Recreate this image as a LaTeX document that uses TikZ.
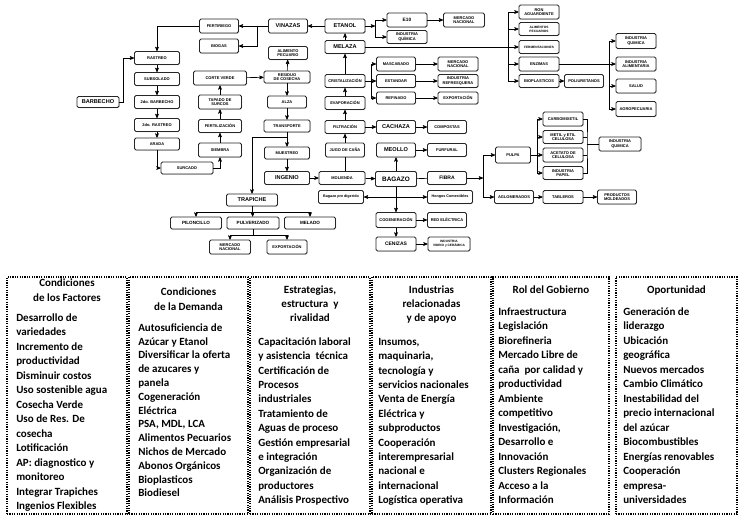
\documentclass[tikz,border=0pt]{standalone}
\usepackage{fontspec}
\setmainfont{Carlito}
\newfontfamily\diagfont{Liberation Sans}
\usepackage{tikz}
\usetikzlibrary{arrows,shadows,calc,positioning}

\begin{document}
\begin{tikzpicture}[x=1pt,y=-1pt,->,>=stealth',line width=0.6pt]

   \tikzstyle{proc}=[draw=black!85,rounded corners=1.5pt,line width=0.8pt,fill=white,
      drop shadow={shadow xshift=0.6pt,shadow yshift=-0.6pt,fill=black!45},
      minimum width=40pt,minimum height=13pt,inner sep=0.5pt,align=center,
      font=\diagfont\bfseries\fontsize{4}{4.6}\selectfont]
   \tikzstyle{big}=[proc,font=\diagfont\bfseries\fontsize{5.6}{6}\selectfont]
   \tikzstyle{wee}=[proc,font=\diagfont\bfseries\fontsize{3.2}{3.8}\selectfont]
   \tikzstyle{panel}=[draw,line width=1.6pt,dash pattern=on 1.2pt off 1.2pt,
      minimum height=237pt,inner sep=0pt]
   \tikzstyle{head}=[anchor=north,align=center,inner sep=0pt,font=\bfseries\fontsize{11}{15}\selectfont]
   \tikzstyle{body}=[anchor=north west,align=left,inner sep=0pt,font=\bfseries\fontsize{11}{14.5}\selectfont]

   \useasboundingbox (0,0) rectangle (742,528);

   % field work
   \node[big,minimum width=42pt,minimum height=11pt] (barbecho) at (98,102) {BARBECHO};
   \node[proc,minimum width=45pt] (rastreo) at (157,58) {RASTREO};
   \node[proc,minimum width=45pt] (subsolado) at (157,79) {SUBSOLADO};
   \node[proc,minimum width=45pt] (barbecho2) at (157,102) {2do. BARBECHO};
   \node[proc,minimum width=45pt] (rastreo2) at (157,125) {2do. RASTREO};
   \node[proc,minimum width=45pt,minimum height=12pt] (arada) at (157,144) {ARADA};
   \node[proc,minimum width=52pt,minimum height=12pt] (surcado) at (187,168) {SURCADO};
   \node[proc,minimum width=43pt,minimum height=14pt] (siembra) at (220,150) {SIEMBRA};
   \node[proc,minimum width=43pt] (fertil) at (220,126) {FERTILIZACIÓN};
   \node[proc,minimum width=43pt,minimum height=14pt] (tapado) at (220,102) {TAPADO DE\\SURCOS};
   \node[proc,minimum width=53pt,minimum height=14pt] (corte) at (220,78) {CORTE VERDE};
   \node[proc,minimum width=39pt,minimum height=14pt] (fertiriego) at (219,26) {FERTIRIEGO};
   \node[proc,minimum width=39pt,minimum height=14pt] (biogas) at (219,46) {BIOGAS};

   % harvest and mill
   \node[big,minimum width=39pt,minimum height=14pt] (vinazas) at (288,26) {VINAZAS};
   \node[proc,minimum width=39pt] (alimpec) at (288,53) {ALIMENTO\\PECUARIO};
   \node[proc,minimum width=46pt,minimum height=12pt] (residuo) at (287,77) {RESIDUO\\DE COSECHA};
   \node[proc,minimum width=39pt,minimum height=12pt] (alza) at (287,102) {ALZA};
   \node[proc,minimum width=46pt,minimum height=12pt] (transporte) at (287,126) {TRANSPORTE};
   \node[proc,minimum width=45pt,minimum height=12pt] (muestreo) at (287,153) {MUESTREO};
   \node[big,minimum width=45pt] (ingenio) at (287,178) {INGENIO};
   \node[big,minimum width=51pt,minimum height=12pt] (trapiche) at (252,200) {TRAPICHE};
   \node[proc,minimum width=51pt,minimum height=12pt,font=\diagfont\bfseries\fontsize{4.6}{5}\selectfont] (piloncillo) at (196,223) {PILONCILLO};
   \node[proc,minimum width=52pt,minimum height=12pt,font=\diagfont\bfseries\fontsize{4.6}{5}\selectfont] (pulverizado) at (253,223) {PULVERIZADO};
   \node[proc,minimum width=51pt,minimum height=12pt,font=\diagfont\bfseries\fontsize{4.6}{5}\selectfont] (melado) at (310,223) {MELADO};
   \node[proc,minimum width=41pt,minimum height=14pt] (mercnac3) at (230,247) {MERCADO\\NACIONAL};
   \node[proc,minimum width=40pt,minimum height=14pt] (export2) at (287,247) {EXPORTACIÓN};

   % sugar line
   \node[big,minimum height=14pt] (etanol) at (345,26) {ETANOL};
   \node[big] (melaza) at (345,47) {MELAZA};
   \node[proc] (crist) at (345,81) {CRISTALIZACIÓN};
   \node[proc] (evap) at (345,103) {EVAPORACIÓN};
   \node[proc] (filtr) at (345,127) {FILTRACIÓN};
   \node[proc,minimum width=39pt,minimum height=14pt] (jugo) at (345,150) {JUGO DE CAÑA};
   \node[proc,minimum width=46pt] (molienda) at (342,178) {MOLIENDA};
   \node[big,minimum height=14pt,font=\diagfont\bfseries\fontsize{4.8}{5}\selectfont] (e10) at (407,20) {E10};
   \node[proc] (indquim1) at (407,37) {INDUSTRIA\\QUÍMICA};
   \node[proc,minimum width=41pt,minimum height=14pt] (mercnac1) at (464,20) {MERCADO\\NACIONAL};
   \node[proc,minimum width=39pt,minimum height=14pt] (mascabado) at (396,64) {MASCABADO};
   \node[proc,minimum width=39pt] (estandar) at (396,81) {ESTANDAR};
   \node[proc,minimum width=39pt,minimum height=12pt] (refinado) at (396,98) {REFINADO};
   \node[proc,minimum height=14pt] (mercnac2) at (458,64) {MERCADO\\NACIONAL};
   \node[proc] (refresq) at (458,81) {INDUSTRIA\\REFRESQUERA};
   \node[proc,minimum height=12pt] (export1) at (458,98) {EXPORTACIÓN};
   \node[big,minimum width=39pt] (cachaza) at (396,127) {CACHAZA};
   \node[proc,minimum width=39pt] (compostas) at (447,127) {COMPOSTAS};

   % bagasse
   \node[big,minimum width=39pt,minimum height=14pt] (meollo) at (396,150) {MEOLLO};
   \node[proc,minimum width=39pt] (furfural) at (447,150) {FURFURAL};
   \node[big,minimum width=41pt,minimum height=15pt,font=\diagfont\bfseries\fontsize{6.4}{7}\selectfont] (bagazo) at (396,179) {BAGAZO};
   \node[big,minimum width=39pt,font=\diagfont\bfseries\fontsize{5}{6}\selectfont] (fibra) at (447,178) {FIBRA};
   \node[proc,minimum width=45pt,font=\diagfont\bfseries\fontsize{3.7}{4.5}\selectfont] (predig) at (341,197) {Bagazo pre digerido};
   \node[proc,minimum width=45pt,font=\diagfont\bfseries\fontsize{3.7}{4.5}\selectfont] (hongos) at (450,197) {Hongos Comestibles};
   \node[proc,minimum height=15pt] (cogen) at (396,220) {COGENERACIÓN};
   \node[proc,minimum width=39pt,minimum height=15pt] (redelec) at (447,220) {RED ELÉCTRICA};
   \node[big,minimum height=14pt,font=\diagfont\bfseries\fontsize{5}{6}\selectfont] (cenizas) at (396,244) {CENIZAS};
   \node[wee,minimum width=42pt,minimum height=14pt] (vidrio) at (449,244) {INDUSTRIA\\VIDRIO y CERÁMICA};

   % molasses products
   \node[proc,minimum height=14pt] (ron) at (539,12) {RON\\AGUARDIENTE};
   \node[wee] (alimpec2) at (539,29) {ALIMENTOS\\PECUARIOS};
   \node[wee] (ferment) at (539,47) {FERMENTACIONES};
   \node[proc,minimum height=14pt] (enzimas) at (539,64) {ENZIMAS};
   \node[proc] (bioplast) at (539,81) {BIOPLASTICOS};
   \node[proc,minimum width=39pt] (poliur) at (584,81) {POLIURETANOS};
   \node[proc,minimum height=15pt] (indquim2) at (636,41) {INDUSTRIA\\QUIMICA};
   \node[proc,minimum height=14pt] (indalim) at (636,64) {INDUSTRIA\\ALIMENTARIA};
   \node[proc,minimum height=14pt] (salud) at (636,86) {SALUD};
   \node[proc,minimum height=15pt] (agropec) at (636,109) {AGROPECUARIA};

   % fibre products
   \node[proc,minimum width=35pt,minimum height=16pt] (pulpa) at (513,155) {PULPA};
   \node[proc,minimum width=39pt] (aglom) at (514,197) {AGLOMERADOS};
   \node[proc,minimum height=14pt] (carbox) at (563,119) {CARBOMIXETIL};
   \node[proc] (metil) at (563,137) {METIL y ETIL\\CELULOSA};
   \node[proc,minimum height=14pt] (acetato) at (563,155) {ACETATO DE\\CELULOSA};
   \node[proc] (papel) at (563,173) {INDUSTRIA\\PAPEL};
   \node[proc,minimum width=42pt,minimum height=14pt] (indquim3) at (620,144) {INDUSTRIA\\QUIMICA};
   \node[proc] (tableros) at (563,197) {TABLEROS};
   \node[proc,minimum width=39pt,minimum height=14pt] (moldeados) at (617,197) {PRODUCTOS\\MOLDEADOS};

   % branch points
   \coordinate (vbr) at (257,26);
   \coordinate (tbr) at (287,137);
   \coordinate (ebr) at (375,26);
   \coordinate (mbr) at (508,47);
   \coordinate (cbr) at (371,81);
   \coordinate (zbr) at (609,64);
   \coordinate (fbr) at (483,178);
   \coordinate (pbr) at (537,155);
   \coordinate (qbr) at (587,144);

   \draw (barbecho.east) -- ++(4,0) |- (rastreo.west);
   \draw (rastreo) -- (subsolado);
   \draw (subsolado) -- (barbecho2);
   \draw (barbecho2) -- (rastreo2);
   \draw (rastreo2) -- (arada);
   \draw (arada.south) |- (surcado.west);
   \draw (surcado.east) -| (siembra.south);
   \draw (siembra) -- (fertil);
   \draw (fertil) -- (tapado);
   \draw (tapado) -- (corte);
   \draw (corte) -- (residuo);
   \draw (residuo) -- (alimpec);
   \draw (residuo) -- (alza);
   \draw (alza) -- (transporte);
   \draw (transporte) -- (muestreo);
   \draw (tbr) -| (trapiche.north);
   \draw (muestreo) -- (ingenio);
   \draw (ingenio) -- (molienda);

   \draw (trapiche) -- (pulverizado);
   \draw (trapiche.south) -- ++(0,6) -| (piloncillo.north);
   \draw (trapiche.south) -- ++(0,6) -| (melado.north);
   \draw (pulverizado.south) -- ++(0,6) -| (mercnac3.north);
   \draw (pulverizado.south) -- ++(0,6) -| (export2.north);

   \draw (vinazas) -- (fertiriego);
   \draw (vbr) |- (biogas.east);
   \draw (fertiriego.west) -| (rastreo.north);
   \draw (etanol) -- (vinazas);
   \draw (melaza) -- (etanol);
   \draw (crist) -- (melaza);
   \draw (evap) -- (crist);
   \draw (filtr) -- (evap);
   \draw (jugo) -- (filtr);
   \draw[-] (molienda.north -| jugo) -- (jugo);

   \draw (etanol) -- (ebr);
   \draw (ebr) |- (e10.west);
   \draw (ebr) |- (indquim1.west);
   \draw (e10) -- (mercnac1);

   \draw (melaza) -- (ferment);
   \draw (mbr) |- (ron.west);
   \draw (mbr) |- (alimpec2.west);
   \draw (mbr) |- (enzimas.west);
   \draw (mbr) |- (bioplast.west);
   \draw (bioplast) -- (poliur);
   \draw (enzimas) -- (indalim);
   \draw (zbr) |- (indquim2.west);
   \draw (zbr) |- (salud.west);
   \draw (zbr) |- (agropec.west);

   \draw (crist) -- (estandar);
   \draw (cbr) |- (mascabado.west);
   \draw (cbr) |- (refinado.west);
   \draw (mascabado) -- (mercnac2);
   \draw (estandar) -- (refresq);
   \draw (refinado) -- (export1);
   \draw (filtr) -- (cachaza);
   \draw (cachaza) -- (compostas);

   \draw (molienda) -- (bagazo);
   \draw (bagazo) -- (meollo);
   \draw (meollo) -- (furfural);
   \draw[-] (bagazo) -- (fibra);
   \draw (bagazo) -- (cogen);
   \draw [<->] (predig) -- (hongos);
   \draw (cogen) -- (redelec);
   \draw (cogen) -- (cenizas);
   \draw (cenizas) -- (vidrio);

   \draw (fibra) -- (fbr);
   \draw (fbr) |- (pulpa.west);
   \draw (fbr) |- (aglom.west);
   \draw[-] (pulpa) -- (pbr);
   \draw (pbr) |- (carbox.west);
   \draw (pbr) |- (metil.west);
   \draw (pbr) -- (acetato);
   \draw (pbr) |- (papel.west);
   \draw[-] (carbox.east) -| (qbr) |- (papel.east);
   \draw[-] (metil.east) -- (metil.east -| qbr);
   \draw[-] (acetato.east) -- (acetato.east -| qbr);
   \draw[-] (qbr) -- (indquim3);
   \draw (aglom) -- (tableros);
   \draw (tableros) -- (moldeados);

   % diamond factors
   \node[panel,minimum width=120pt] (factores) at (67,395.5) {};
   \node[panel,minimum width=119pt] (demanda) at (188.5,395.5) {};
   \node[panel,minimum width=120pt] (estrategia) at (310,395.5) {};
   \node[panel,minimum width=119pt] (industrias) at (431.5,395.5) {};
   \node[panel,minimum width=116pt] (gobierno) at (551,395.5) {};
   \node[panel,minimum width=121pt] (oportunidad) at (676.5,395.5) {};

   \node[head] (factoresT) at (67,276) {\strut Condiciones\\de los Factores};
   \node[body] (factoresB) at (16,310.85) {\strut Desarrollo de\\variedades\\Incremento de\\productividad\\Disminuir costos\\Uso sostenible agua\\Cosecha Verde\\Uso de Res. De\\cosecha\\Lotificación\\AP: diagnostico y\\monitoreo\\Integrar Trapiches\\Ingenios Flexibles};

   \node[head] (demandaT) at (188.5,284.5) {\strut Condiciones\\de la Demanda};
   \node[body,font=\bfseries\fontsize{11}{13.8}\selectfont] (demandaB) at (138,321.3) {\strut Autosuficiencia de\\Azúcar y Etanol\\Diversificar la oferta\\de azucares y\\panela\\Cogeneración\\Eléctrica\\PSA, MDL, LCA\\Alimentos Pecuarios\\Nichos de Mercado\\Abonos Orgánicos\\Bioplasticos\\Biodiesel};

   \node[head,font=\bfseries\fontsize{11}{14}\selectfont] (estrategiaT) at (310,283.2) {\strut Estrategias,\\estructura\ \ y\\rivalidad};
   \node[body,font=\bfseries\fontsize{11}{14.4}\selectfont] (estrategiaB) at (258,334.9) {\strut Capacitación laboral\\y asistencia\ \ técnica\\Certificación de\\Procesos\\industriales\\Tratamiento de\\Aguas de proceso\\Gestión empresarial\\e integración\\Organización de\\productores\\Análisis Prospectivo};

   \node[head,font=\bfseries\fontsize{11}{14}\selectfont] (industriasT) at (431.5,283.2) {\strut Industrias\\relacionadas\\y de apoyo};
   \node[body,font=\bfseries\fontsize{11}{14.4}\selectfont] (industriasB) at (378,334.9) {\strut Insumos,\\maquinaria,\\tecnología y\\servicios nacionales\\Venta de Energía\\Eléctrica y\\subproductos\\Cooperación\\interempresarial\\nacional e\\internacional\\Logística operativa};

   \node[head] (gobiernoT) at (551,282.5) {\strut Rol del Gobierno};
   \node[body] (gobiernoB) at (498,304.85) {\strut Infraestructura\\Legislación\\Biorefineria\\Mercado Libre de\\caña\ \ por calidad y\\productividad\\Ambiente\\competitivo\\Investigación,\\Desarrollo e\\Innovación\\Clusters Regionales\\Acceso a la\\Información};

   \node[head] (oportunidadT) at (676.5,282.5) {\strut Oportunidad};
   \node[body] (oportunidadB) at (623,304.85) {\strut Generación de\\liderazgo\\Ubicación\\geográfica\\Nuevos mercados\\Cambio Climático\\Inestabilidad del\\precio internacional\\del azúcar\\Biocombustibles\\Energías renovables\\Cooperación\\empresa-\\universidades};

\end{tikzpicture}
\end{document}
